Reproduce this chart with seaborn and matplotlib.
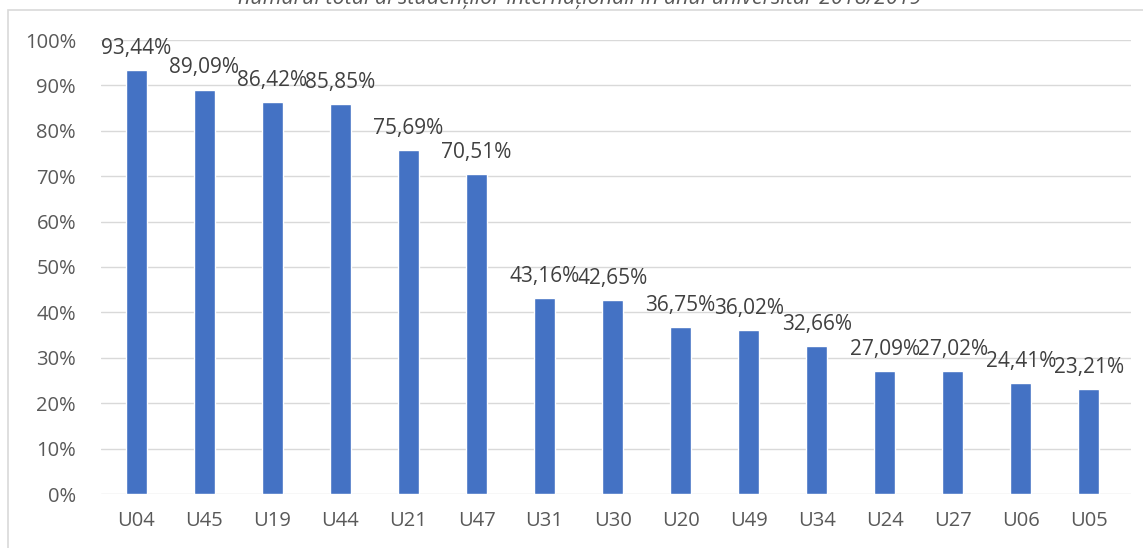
import pandas as pd
import matplotlib.pyplot as plt
import seaborn as sns
from matplotlib.patches import Rectangle
from matplotlib.ticker import FuncFormatter

# Data
universities = ['U04', 'U45', 'U19', 'U44', 'U21', 'U47', 'U31', 'U30',
                'U20', 'U49', 'U34', 'U24', 'U27', 'U06', 'U05']
shares = [93.44, 89.09, 86.42, 85.85, 75.69, 70.51, 43.16, 42.65,
          36.75, 36.02, 32.66, 27.09, 27.02, 24.41, 23.21]
title = 'numărul total al studenților internaționali în anul universitar 2018/2019'

df = pd.DataFrame({'Universitate': universities, 'Pondere': shares})

sns.set_style('white')
plt.rcParams['font.family'] = ['Open Sans', 'DejaVu Sans']

fig = plt.figure(figsize=(11.43, 5.48), dpi=100)
ax = fig.add_axes([101 / 1143, 1 - 494 / 548, 1030 / 1143, 454 / 548])

sns.barplot(data=df, x='Universitate', y='Pondere', color='#4472C4',
            width=0.31, saturation=1, ax=ax, zorder=3)

# Value labels with decimal comma
for i, v in enumerate(shares):
    ax.annotate(f'{v:.2f}%'.replace('.', ','), (i, v), xytext=(0, 8),
                textcoords='offset points', ha='center', va='bottom',
                fontsize=15, color='#404040')

ax.set_ylim(0, 100)
ax.set_xlim(-0.52, 14.62)
ax.set_yticks(range(0, 101, 10))
ax.yaxis.set_major_formatter(FuncFormatter(lambda y, _: f'{int(y)}%'))
ax.grid(axis='y', color='#D9D9D9', linewidth=1, zorder=0)
ax.set_xlabel('')
ax.set_ylabel('')
ax.tick_params(axis='both', labelsize=14.5, colors='#595959', length=0)
ax.tick_params(axis='x', pad=12)
ax.tick_params(axis='y', pad=18)
for s in ax.spines.values():
    s.set_visible(False)

# Outer chart frame
fig.patches.append(Rectangle((8 / 1143, -0.02), 1.0, 1 - 10 / 548 + 0.02,
                             transform=fig.transFigure, fill=False,
                             edgecolor='#D9D9D9', linewidth=1.2))

# Title partially cut off at the top edge, as in the source
fig.text(580 / 1143, 1 - 4 / 548, title, ha='center', va='baseline',
         fontsize=15.5, style='italic', color='#595959')

fig.savefig('out.png', dpi=100)
